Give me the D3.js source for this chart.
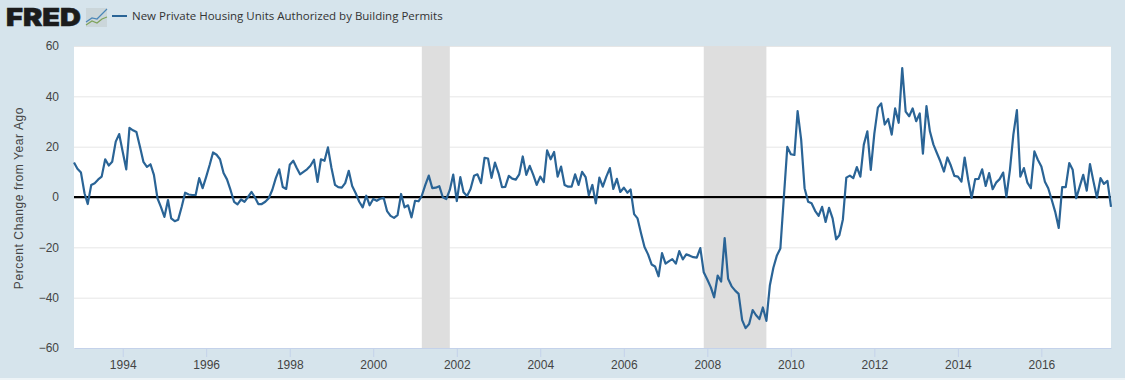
<!DOCTYPE html>
<html>
<head>
<meta charset="utf-8">
<script src="https://cdn.jsdelivr.net/npm/d3@7"></script>
<style>
  html, body { margin: 0; padding: 0; background: #d6e4ec; }
  svg { display: block; }
  text { font-family: "Open Sans", sans-serif; }
</style>
</head>
<body>
<div id="chart"></div>
<script>
const seriesName = 'New Private Housing Units Authorized by Building Permits'
const yTitle = 'Percent Change from Year Ago'

const firstMonth = new Date(1992, 10, 1)
const lastMonth = new Date(2017, 8, 1)

// monthly values, Nov 1992 onward
const pctChange = [
  13.7, 11.2, 9.7, 1.5, -2.8, 4.8, 5.5, 7, 8.1, 15, 12.5, 14, 22, 25, 18, 11,
  27.5, 26.5, 25.8, 20, 14, 12, 13, 8.8, -0.5, -3.9, -7.9, -1.2, -8.5, -9.6, -9, -3.9,
  1.7, 1, 0.8, 0.8, 7.5, 3.5, 8, 12.8, 17.7, 16.8, 15, 9.5, 7, 2.8, -1.9, -2.9,
  -1, -1.9, 0, 2, 0, -2.8, -2.8, -1.9, -0.5, 2.8, 7.5, 11, 4, 3.2, 12.8, 14.4,
  11.7, 9, 10, 11, 12.4, 14.8, 6, 15, 14.4, 19.7, 11.5, 4.8, 3.9, 3.7, 5.5, 10.4,
  4.4, 1.5, -1.9, -4.1, 0.5, -3.3, -0.8, -1.5, -0.7, -0.3, -5.6, -7.5, -8.3, -7.2, 1.2, -4.1,
  -3.3, -8.1, -1.5, -1.7, 0.5, 4.8, 8.5, 3.5, 3.7, 4.3, -0.1, -0.8, 2.8, 8.9, -1.6, 7.9,
  1.9, 0.4, 3.2, 8.4, 9, 5.5, 15.6, 15.3, 7.6, 13.7, 9.5, 3.9, 4, 8.4, 7.3, 6.9,
  9, 16.1, 8.8, 12.4, 8.8, 4.8, 8.1, 5.9, 18.5, 15, 17.9, 8.1, 12.1, 4.8, 4.1, 4.1,
  9, 4.8, 10, 7.9, 0.7, 4.8, -2.5, 7.7, 4.1, 8.1, 11.5, 3.2, 7.2, 2, 3.7, 1.7,
  3, -6.8, -8.5, -14.5, -19.9, -22.8, -26.8, -27.6, -31.5, -22.3, -26.5, -25.5, -24.7, -26.5, -21.5, -24.8,
  -22.8, -23.3, -23.9, -24.1, -20.3, -29.9, -32.8, -35.9, -39.9, -31.2, -33.6, -16.3, -32.5, -35.5, -37.2, -38.5,
  -48.9, -52.1, -50.5, -44.9, -46.9, -48.5, -43.9, -49.2, -35.2, -28.1, -23.2, -20.5, 0.1, 19.9, 17, 16.7,
  34.1, 22.8, 3.5, -1.9, -2.5, -5.5, -7.5, -3.9, -9.9, -4.3, -8.5, -16.8, -15.2, -8.9, 7.7, 8.5,
  7.5, 11.9, 8.1, 20.8, 26.1, 10.8, 25.2, 35.5, 37.2, 28.8, 31, 24.8, 35.2, 29.5, 51.2, 33.9,
  32.1, 35.2, 30.1, 33.2, 17.2, 36.1, 26.1, 20.8, 17.5, 14.1, 10.1, 15.7, 12.4, 8.4, 8.1, 6.1,
  15.7, 6.8, -0.4, 7.1, 7.2, 11, 4.4, 9.5, 3.1, 5.7, 7.1, 9.7, 0.1, 10.8, 24.8, 34.5,
  8.1, 11.5, 5.7, 3.5, 18.1, 14.8, 12.1, 6.1, 3.5, -1.2, -5.9, -12.3, 3.9, 3.9, 13.5, 10.8,
  -0.5, 4.1, 8.8, 2.5, 13.1, 6.1, -0.3, 7.5, 5.2, 6.4, -3.9
]

const recessionStarts = [new Date(2001, 2, 1), new Date(2007, 11, 1)]
const recessionEnds = [new Date(2001, 10, 1), new Date(2009, 5, 1)]

const yTicks = [-60, -40, -20, 0, 20, 40, 60]
const xTickYears = [1994, 1996, 1998, 2000, 2002, 2004, 2006, 2008, 2010, 2012, 2014, 2016]

const width = 1125
const height = 380
const margin = { top: 46, right: 14, bottom: 32, left: 74 }

const months = d3.timeMonth.range(firstMonth, d3.timeMonth.offset(lastMonth, 1))
const data = months.map((d, i) => ({ date: d, value: pctChange[i] }))

const x = d3.scaleTime()
  .domain([firstMonth, lastMonth])
  .range([margin.left, width - margin.right])

const y = d3.scaleLinear()
  .domain([-60, 60])
  .range([height - margin.bottom, margin.top])

const svg = d3.select('#chart').append('svg')
  .attr('width', width)
  .attr('height', height)

svg.append('rect')
  .attr('width', width)
  .attr('height', height)
  .attr('fill', '#d6e4ec')

// light strip along the bottom edge of the screenshot
svg.append('rect')
  .attr('y', height - 2)
  .attr('width', width)
  .attr('height', 2)
  .attr('fill', '#eef4f7')

svg.append('rect')
  .attr('x', margin.left)
  .attr('y', margin.top)
  .attr('width', width - margin.left - margin.right)
  .attr('height', height - margin.top - margin.bottom)
  .attr('fill', '#fff')

// grid first, recessions sit on top of it
svg.append('g')
  .attr('transform', `translate(${margin.left},0)`)
  .call(d3.axisLeft(y).tickValues(yTicks).tickSize(-(width - margin.left - margin.right)).tickFormat(''))
  .call(g => g.select('.domain').remove())
  .call(g => g.selectAll('.tick line').attr('stroke', '#e6e6e6').attr('stroke-width', 1))

svg.append('g')
  .selectAll('rect')
  .data(recessionStarts)
  .join('rect')
  .attr('x', d => x(d))
  .attr('y', margin.top)
  .attr('width', (d, i) => x(recessionEnds[i]) - x(d))
  .attr('height', height - margin.top - margin.bottom)
  .attr('fill', '#dedede')

const yAxis = svg.append('g')
  .attr('transform', `translate(${margin.left},0)`)
  .call(d3.axisLeft(y).tickValues(yTicks).tickSize(0).tickPadding(15))
yAxis.select('.domain').remove()
yAxis.selectAll('text')
  .attr('font-size', 12)
  .attr('fill', '#444')
  .style('font-family', '"Liberation Sans", sans-serif')

const xAxis = svg.append('g')
  .attr('transform', `translate(0,${height - margin.bottom})`)
  .call(d3.axisBottom(x)
    .tickValues(xTickYears.map(yr => new Date(yr, 0, 1)))
    .tickFormat(d3.timeFormat('%Y'))
    .tickSize(9)
    .tickSizeOuter(0)
    .tickPadding(3))
xAxis.select('.domain').attr('stroke', '#c4d2ea').attr('stroke-width', 1)
xAxis.selectAll('.tick line').attr('stroke', '#c4d2ea')
xAxis.selectAll('text')
  .attr('font-size', 12)
  .attr('fill', '#444')
  .style('font-family', '"Liberation Sans", sans-serif')

svg.append('text')
  .attr('transform', `translate(23,${y(0) + 1}) rotate(-90)`)
  .attr('text-anchor', 'middle')
  .attr('font-size', 12)
  .attr('letter-spacing', 0.6)
  .attr('fill', '#444')
  .style('font-family', '"Liberation Sans", sans-serif')
  .text(yTitle)

// zero reference line, with the soft edge under it
svg.append('line')
  .attr('x1', margin.left)
  .attr('x2', width - margin.right)
  .attr('y1', y(0) + 1.5)
  .attr('y2', y(0) + 1.5)
  .attr('stroke', '#bbb')
  .attr('stroke-width', 1)

svg.append('line')
  .attr('x1', margin.left)
  .attr('x2', width - margin.right)
  .attr('y1', y(0))
  .attr('y2', y(0))
  .attr('stroke', '#000')
  .attr('stroke-width', 2)

const line = d3.line()
  .x(d => x(d.date))
  .y(d => y(d.value))

svg.append('path')
  .datum(data)
  .attr('fill', 'none')
  .attr('stroke', '#2a6496')
  .attr('stroke-width', 2.2)
  .attr('stroke-linejoin', 'round')
  .attr('d', line)

// header: logo, little icon, legend
svg.append('text')
  .attr('x', 6)
  .attr('y', 26)
  .attr('font-size', 25)
  .attr('font-weight', 900)
  .attr('fill', '#1c1c1c')
  .attr('stroke', '#1c1c1c')
  .attr('stroke-width', 0.6)
  .attr('textLength', 75)
  .attr('lengthAdjust', 'spacingAndGlyphs')
  .style('font-family', 'Inter, sans-serif')
  .text('FRED')

const icon = svg.append('g').attr('transform', 'translate(86,8)')
icon.append('rect').attr('width', 21).attr('height', 19).attr('fill', '#cbd6da')
icon.append('path')
  .attr('d', 'M0,14 L6,10 L11,11 L16,6 L21,1')
  .attr('fill', 'none').attr('stroke', '#4a86b8').attr('stroke-width', 1.2)
icon.append('path')
  .attr('d', 'M0,17 L6,13 L11,15 L16,11 L21,9')
  .attr('fill', 'none').attr('stroke', '#7ea35a').attr('stroke-width', 1.2)

svg.append('line')
  .attr('x1', 112)
  .attr('x2', 127)
  .attr('y1', 16)
  .attr('y2', 16)
  .attr('stroke', '#2a6496')
  .attr('stroke-width', 2)

svg.append('text')
  .attr('x', 132)
  .attr('y', 20)
  .attr('font-size', 11.5)
  .attr('fill', '#333')
  .text(seriesName)
</script>
</body>
</html>
